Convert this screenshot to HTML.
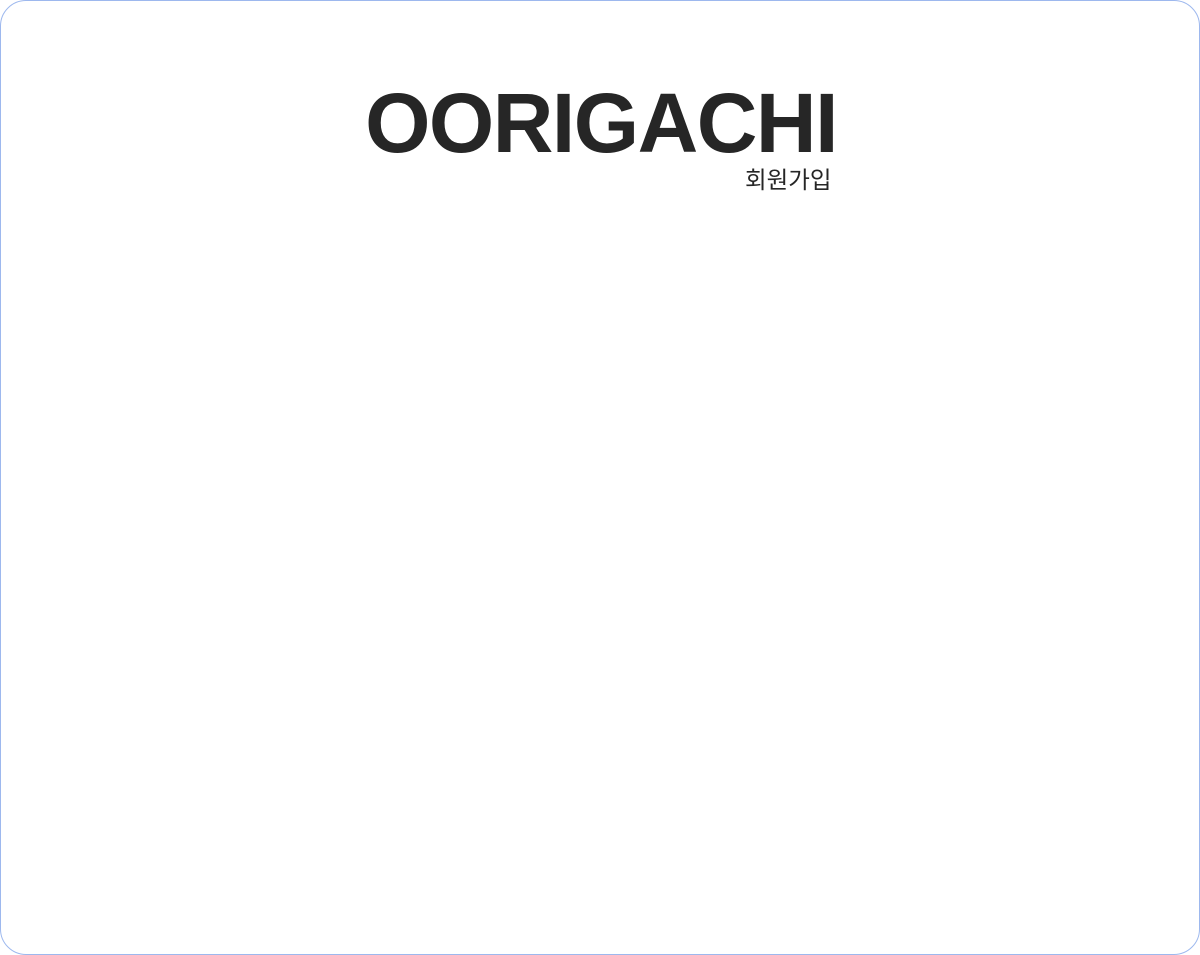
<!DOCTYPE html>
<html><head><meta charset="utf-8"><style>
html,body{margin:0;padding:0;width:1200px;height:955px;background:#fff;overflow:hidden}
.card{position:absolute;left:0;top:0;width:1198px;height:953px;border:1px solid #9db8ee;border-radius:26px;background:#fff}
.title{position:absolute;left:0;width:1200px;top:72px;text-align:center;font-family:"Liberation Sans","Noto Sans CJK KR",sans-serif;font-weight:bold;font-size:84px;letter-spacing:-1.5px;color:#262626;line-height:100px;margin:0}
.sub{position:absolute;left:744px;top:164px;font-family:"Liberation Sans","Noto Sans CJK KR",sans-serif;font-size:23.5px;color:#262626;line-height:30px;white-space:nowrap}
</style></head><body>
<div class="card">
<h1 class="title">OORIGACHI</h1>
<div class="sub">회원가입</div>
</div>
</body></html>
